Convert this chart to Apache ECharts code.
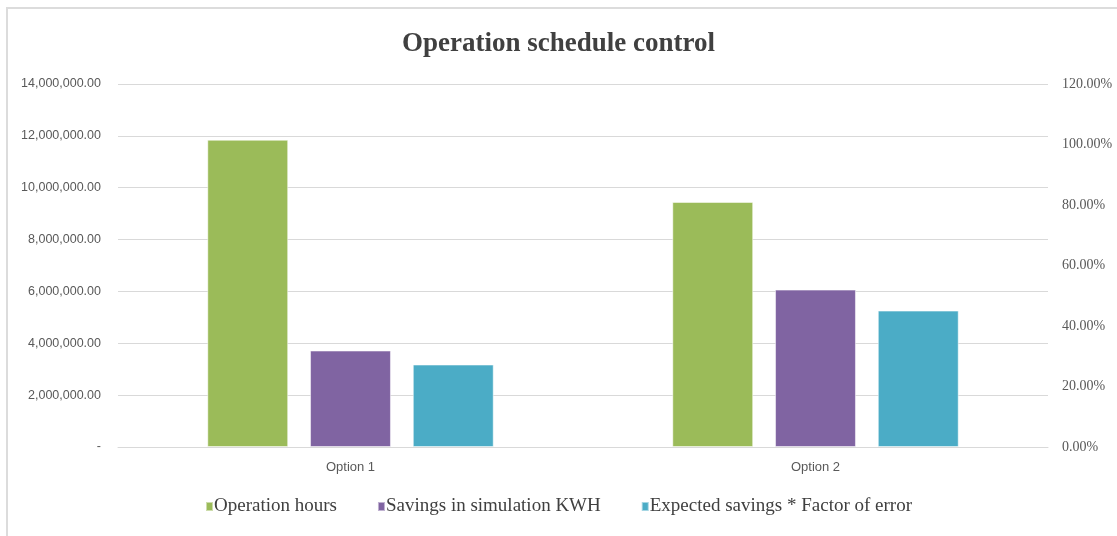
<!DOCTYPE html>
<html>
<head>
<meta charset="utf-8">
<script src="https://cdn.jsdelivr.net/npm/echarts@6/dist/echarts.min.js"></script>
<style>
  html, body { margin: 0; padding: 0; background: #fff; }
  #chart { width: 1117px; height: 536px; }
</style>
</head>
<body>
<div id="chart"></div>
<script>
const categories = ["Option 1", "Option 2"];
const seriesNames = ["Operation hours", "Savings in simulation KWH", "Expected savings * Factor of error"];
const operationHours = [11850000, 9450000];
const savingsSimulation = [3720000, 6070000];
const expectedSavings = [3180000, 5260000];
const colors = ["#9bbb59", "#8064a2", "#4bacc6"];

const chart = echarts.init(document.getElementById("chart"));

function fmtMoney(v) {
  if (v === 0) return "-";
  return v.toLocaleString("en-US", { minimumFractionDigits: 2, maximumFractionDigits: 2 });
}

chart.setOption({
  animation: false,
  color: colors,
  title: {
    text: "Operation schedule control",
    left: "center",
    top: 26,
    textStyle: {
      fontFamily: "Liberation Serif",
      fontWeight: "bold",
      fontSize: 27,
      color: "#404040"
    }
  },
  graphic: [
    {
      type: "polyline",
      shape: { points: [[7, 536], [7, 8], [1117, 8]] },
      style: { stroke: "#dcdcdc", lineWidth: 2, fill: null }
    }
  ],
  legend: {
    bottom: 15,
    left: "center",
    itemWidth: 7,
    itemHeight: 9,
    itemGap: 40,
    icon: "rect",
    textStyle: {
      fontFamily: "Liberation Serif",
      fontSize: 19,
      color: "#404040",
      padding: [0, 0, 0, -4]
    },
    data: seriesNames
  },
  grid: {
    left: 118,
    right: 69,
    top: 84,
    bottom: 89
  },
  xAxis: {
    type: "category",
    data: categories,
    axisTick: { show: false },
    axisLine: { show: true, lineStyle: { color: "#d9d9d9", width: 1 } },
    axisLabel: {
      margin: 14,
      fontFamily: "Liberation Sans Narrow, Liberation Sans",
      fontSize: 13,
      color: "#595959"
    }
  },
  yAxis: [
    {
      type: "value",
      min: 0,
      max: 14000000,
      interval: 2000000,
      axisLine: { show: false },
      axisTick: { show: false },
      splitLine: { lineStyle: { color: "#d9d9d9", width: 1 } },
      axisLabel: {
        margin: 17,
        fontFamily: "Liberation Sans Narrow, Liberation Sans",
        fontSize: 12.5,
        color: "#595959",
        formatter: fmtMoney
      }
    },
    {
      type: "value",
      min: 0,
      max: 1.2,
      interval: 0.2,
      position: "right",
      axisLine: { show: false },
      axisTick: { show: false },
      splitLine: { show: false },
      axisLabel: {
        margin: 14,
        fontFamily: "Liberation Serif",
        fontSize: 14,
        color: "#595959",
        formatter: function (v) {
          return (v * 100).toFixed(2) + "%";
        }
      }
    }
  ],
  series: [
    {
      name: seriesNames[0],
      type: "bar",
      data: operationHours,
      barWidth: "17.4%",
      barGap: "27%",
      itemStyle: { borderColor: "rgba(255,255,255,0.5)", borderWidth: 1 }
    },
    {
      name: seriesNames[1],
      type: "bar",
      data: savingsSimulation,
      barWidth: "17.4%",
      barGap: "27%",
      itemStyle: { borderColor: "rgba(255,255,255,0.5)", borderWidth: 1 }
    },
    {
      name: seriesNames[2],
      type: "bar",
      data: expectedSavings,
      barWidth: "17.4%",
      barGap: "27%",
      itemStyle: { borderColor: "rgba(255,255,255,0.5)", borderWidth: 1 }
    }
  ]
});
</script>
</body>
</html>
